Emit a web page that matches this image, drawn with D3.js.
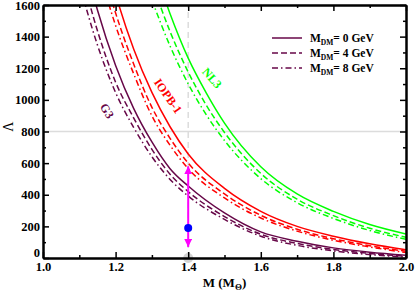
<!DOCTYPE html>
<html>
<head>
<meta charset="utf-8">
<script src="https://cdn.jsdelivr.net/npm/d3@7"></script>
<style>
  body { margin: 0; background: #fff; }
  svg { display: block; }
  text { font-family: "Liberation Serif", "Times New Roman", serif; }
</style>
</head>
<body>
<script>
// tidal deformability vs mass
const g3Mass = [1.1, 1.15, 1.2, 1.25, 1.3, 1.35, 1.4, 1.5, 1.6, 1.7, 1.8, 1.9, 2.0];
const g3Dm0 = [2015, 1568, 1218, 945, 734, 565, 455, 285, 165, 106, 64, 37, 18];
const g3Dm4 = [1854, 1437, 1112, 885, 687, 530, 420, 262, 150, 92, 54, 29, 11];
const g3Dm8 = [1735, 1347, 1046, 825, 641, 497, 392, 244, 138, 80, 45, 22, 6];

const iopbMass = [1.15, 1.2, 1.25, 1.3, 1.35, 1.4, 1.5, 1.6, 1.7, 1.8, 1.9, 2.0];
const iopbDm0 = [2106, 1668, 1320, 1047, 830, 658, 440, 295, 200, 138, 90, 52];
const iopbDm4 = [1946, 1549, 1225, 953, 757, 600, 405, 270, 182, 122, 78, 42];
const iopbDm8 = [1853, 1470, 1164, 899, 713, 565, 380, 253, 170, 112, 70, 34];

const nl3Mass = [1.3, 1.35, 1.4, 1.45, 1.5, 1.6, 1.7, 1.8, 1.9, 2.0];
const nl3Dm0 = [1880, 1545, 1264, 1043, 853, 577, 405, 295, 212, 152];
const nl3Dm4 = [1743, 1432, 1176, 966, 794, 535, 372, 268, 188, 131];
const nl3Dm8 = [1632, 1341, 1101, 905, 743, 502, 350, 250, 174, 118];

const legendLabels = ['0', '4', '8'];
const xTicks = [1.0, 1.2, 1.4, 1.6, 1.8, 2.0];
const yTicks = [0, 200, 400, 600, 800, 1000, 1200, 1400, 1600];

// GW170817 bound at 1.4 Msun
const gwMass = 1.4;
const gwLow = 70;
const gwHigh = 580;
const gwCentral = 190;
const refLambda = 800;

const width = 415;
const height = 293;
const margin = { top: 5, right: 9, bottom: 35, left: 43 };

const x = d3.scaleLinear().domain([1.0, 2.0]).range([margin.left, width - margin.right]);
const y = d3.scaleLinear().domain([0, 1600]).range([height - margin.bottom, margin.top]);

const MAROON = '#670748';
const dashes = [null, '6,3', '6,3,1.5,3'];

const svg = d3.select('body').append('svg')
  .attr('width', width)
  .attr('height', height);

svg.append('clipPath').attr('id', 'plot')
  .append('rect')
  .attr('x', margin.left).attr('y', margin.top)
  .attr('width', x(2.0) - x(1.0)).attr('height', y(0) - y(1600));

// reference lines
svg.append('line')
  .attr('x1', x(1.0)).attr('x2', x(2.0))
  .attr('y1', y(refLambda)).attr('y2', y(refLambda))
  .attr('stroke', '#dcdcdc').attr('stroke-width', 1.5);
svg.append('line')
  .attr('x1', x(gwMass)).attr('x2', x(gwMass))
  .attr('y1', y(0)).attr('y2', y(1600))
  .attr('stroke', '#dcdcdc').attr('stroke-width', 1.5)
  .attr('stroke-dasharray', '6,4');

svg.append('circle')
  .attr('cx', x(gwMass)).attr('cy', y(0)).attr('r', 5)
  .attr('fill', '#d3d3d3');

const line = d3.line()
  .x(d => x(d[0]))
  .y(d => y(d[1]))
  .curve(d3.curveMonotoneX);

const models = [
  { mass: g3Mass, sets: [g3Dm0, g3Dm4, g3Dm8], color: MAROON },
  { mass: iopbMass, sets: [iopbDm0, iopbDm4, iopbDm8], color: '#ff0000' },
  { mass: nl3Mass, sets: [nl3Dm0, nl3Dm4, nl3Dm8], color: '#00ff00' }
];

const curves = svg.append('g').attr('clip-path', 'url(#plot)');
models.forEach(m => {
  m.sets.forEach((vals, i) => {
    curves.append('path')
      .datum(m.mass.map((v, j) => [v, vals[j]]))
      .attr('fill', 'none')
      .attr('stroke', m.color)
      .attr('stroke-width', 1.5)
      .attr('stroke-dasharray', dashes[i])
      .attr('d', line);
  });
});

// curve names
const names = [
  { t: 'G3', px: 107, py: 111, rot: 58, color: MAROON },
  { t: 'IOPB-1', px: 168, py: 96, rot: 55, color: '#ff0000' },
  { t: 'NL3', px: 212, py: 78, rot: 48, color: '#00ff00' }
];
names.forEach(n => {
  svg.append('text')
    .attr('transform', `translate(${n.px},${n.py}) rotate(${n.rot})`)
    .attr('text-anchor', 'middle')
    .attr('dominant-baseline', 'central')
    .attr('font-size', 12)
    .attr('font-weight', 'bold')
    .attr('fill', n.color)
    .text(n.t);
});

// GW arrow and dot
svg.append('defs').selectAll('marker')
  .data(['start', 'end'])
  .enter().append('marker')
  .attr('id', d => 'arr-' + d)
  .attr('viewBox', '0 0 10 10')
  .attr('refX', 10).attr('refY', 5)
  .attr('markerWidth', 4).attr('markerHeight', 4)
  .attr('orient', 'auto-start-reverse')
  .append('path')
  .attr('d', 'M0,0L10,5L0,10z')
  .attr('fill', '#ff00ff');

svg.append('line')
  .attr('x1', x(gwMass)).attr('x2', x(gwMass))
  .attr('y1', y(gwLow)).attr('y2', y(gwHigh))
  .attr('stroke', '#ff00ff').attr('stroke-width', 2)
  .attr('marker-start', 'url(#arr-start)')
  .attr('marker-end', 'url(#arr-end)');

svg.append('circle')
  .attr('cx', x(gwMass)).attr('cy', y(gwCentral)).attr('r', 4)
  .attr('fill', '#0000ff');

// axes
function styleAxis(g) {
  g.attr('font-family', '"Liberation Serif", serif');
  g.selectAll('path.domain').attr('stroke', '#000').attr('stroke-width', 2);
  g.selectAll('.tick line').attr('stroke', '#000').attr('stroke-width', 1.5);
  g.selectAll('.tick text')
    .attr('font-size', 12.5)
    .attr('font-weight', 'bold')
    .attr('fill', '#000');
}
const xMinor = d3.range(1.1, 2.0, 0.2);
const yMinor = d3.range(100, 1600, 200);

const axBottom = svg.append('g').attr('transform', `translate(0,${y(0)})`);
axBottom.append('g').call(d3.axisBottom(x).tickValues(xMinor).tickSize(-3).tickFormat('').tickSizeOuter(0)).call(styleAxis);
axBottom.append('g').call(d3.axisBottom(x).tickValues(xTicks).tickSize(-6).tickSizeOuter(0).tickPadding(4).tickFormat(d3.format('.1f'))).call(styleAxis);

const axTop = svg.append('g').attr('transform', `translate(0,${y(1600)})`);
axTop.append('g').call(d3.axisTop(x).tickValues(xMinor).tickSize(-3).tickFormat('').tickSizeOuter(0)).call(styleAxis);
axTop.append('g').call(d3.axisTop(x).tickValues(xTicks).tickSize(-6).tickFormat('').tickSizeOuter(0)).call(styleAxis);

const axLeft = svg.append('g').attr('transform', `translate(${x(1.0)},0)`);
axLeft.append('g').call(d3.axisLeft(y).tickValues(yMinor).tickSize(-3).tickFormat('').tickSizeOuter(0)).call(styleAxis);
axLeft.append('g').call(d3.axisLeft(y).tickValues(yTicks).tickSize(-6).tickPadding(3).tickSizeOuter(0).tickFormat(d3.format('d'))).call(styleAxis);
// the zero label sits a little higher so it clears "1.0"
axLeft.selectAll('.tick text').filter(d => d === 0).attr('dy', '-0.15em');

const axRight = svg.append('g').attr('transform', `translate(${x(2.0)},0)`);
axRight.append('g').call(d3.axisRight(y).tickValues(yMinor).tickSize(-3).tickFormat('').tickSizeOuter(0)).call(styleAxis);
axRight.append('g').call(d3.axisRight(y).tickValues(yTicks).tickSize(-6).tickFormat('').tickSizeOuter(0)).call(styleAxis);

// axis titles
const xt = svg.append('text')
  .attr('x', (x(1.0) + x(2.0)) / 2).attr('y', 287)
  .attr('text-anchor', 'middle')
  .attr('font-size', 13).attr('font-weight', 'bold');
xt.append('tspan').text('M (M');
xt.append('tspan').attr('font-size', 9).attr('dy', 3).text('Θ');
xt.append('tspan').attr('dy', -3).text(')');

svg.append('text')
  .attr('transform', `translate(13,${y(830)}) rotate(-90)`)
  .attr('text-anchor', 'middle')
  .attr('font-size', 14)
  .text('Λ');

// legend
const legend = svg.append('g');
legendLabels.forEach((lab, i) => {
  const ly = 38 + i * 15;
  legend.append('line')
    .attr('x1', 272).attr('x2', 302)
    .attr('y1', ly).attr('y2', ly)
    .attr('stroke', MAROON).attr('stroke-width', 1.5)
    .attr('stroke-dasharray', dashes[i]);
  const t = legend.append('text')
    .attr('x', 310).attr('y', ly + 4)
    .attr('font-size', 11.5).attr('font-weight', 'bold');
  t.append('tspan').text('M');
  t.append('tspan').attr('font-size', 7.5).attr('dy', 3).text('DM');
  t.append('tspan').attr('dy', -3).text('= ' + lab + ' GeV');
});
</script>
</body>
</html>
